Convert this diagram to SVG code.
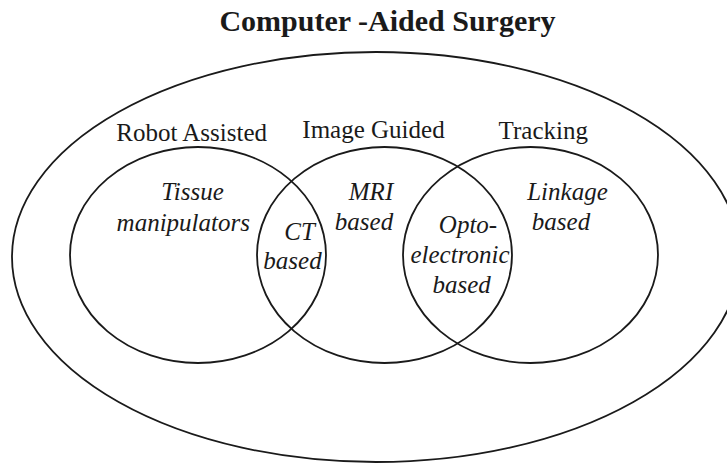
<svg xmlns="http://www.w3.org/2000/svg" width="727" height="463" viewBox="0 0 727 463">
<style>
.shape{fill:none;stroke:#1a1a1a;stroke-width:1.8}
text{font-family:'Liberation Serif',Times,'DejaVu Serif',serif;fill:#1a1a1a;text-anchor:middle}
.title{font-weight:bold;font-size:30px}
.label{font-size:25px}
.item{font-style:italic;font-size:25px}
</style>
<rect width="727" height="463" fill="#ffffff"/>
<g id="computer-aided-surgery">
<text class="title" x="387.5" y="31" font-family="Liberation Serif, serif">Computer -Aided Surgery</text>
<ellipse class="shape" cx="376" cy="257" rx="364" ry="205"/>
</g>
<g id="robot-assisted">
<ellipse class="shape" cx="198" cy="255" rx="128" ry="108"/>
<text class="label" x="191.7" y="141" font-family="Liberation Serif, serif">Robot Assisted</text>
<text class="item" x="192.5" y="200" font-family="Liberation Serif, serif">Tissue</text>
<text class="item" x="183.3" y="231" font-family="Liberation Serif, serif">manipulators</text>
</g>
<g id="image-guided">
<ellipse class="shape" cx="384.5" cy="255" rx="127.5" ry="108"/>
<text class="label" x="373.5" y="138" font-family="Liberation Serif, serif">Image Guided</text>
<text class="item" x="371" y="200" font-family="Liberation Serif, serif">MRI</text>
<text class="item" x="364" y="230" font-family="Liberation Serif, serif">based</text>
</g>
<g id="tracking">
<ellipse class="shape" cx="530.5" cy="255" rx="127.5" ry="108"/>
<text class="label" x="543.3" y="138.5" font-family="Liberation Serif, serif">Tracking</text>
<text class="item" x="567.5" y="200" font-family="Liberation Serif, serif">Linkage</text>
<text class="item" x="561" y="230" font-family="Liberation Serif, serif">based</text>
</g>
<g id="ct-based">
<text class="item" x="299.5" y="240" font-family="Liberation Serif, serif">CT</text>
<text class="item" x="292.5" y="269.3" font-family="Liberation Serif, serif">based</text>
</g>
<g id="opto-electronic-based">
<text class="item" x="468" y="233.3" font-family="Liberation Serif, serif">Opto-</text>
<text class="item" x="460" y="263.3" font-family="Liberation Serif, serif">electronic</text>
<text class="item" x="461.7" y="293.3" font-family="Liberation Serif, serif">based</text>
</g>
<g id="connectors"/>
</svg>
